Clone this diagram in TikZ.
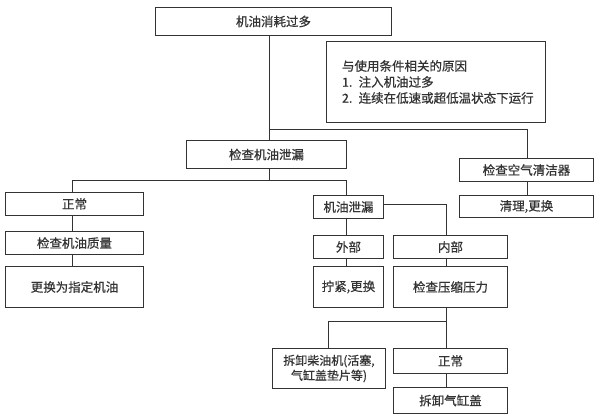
\documentclass[tikz,border=0pt]{standalone}
\usepackage{fontspec}
\setmainfont{Noto Sans CJK SC}[FakeBold=0.6]
\begin{document}
\begin{tikzpicture}[x=1pt,y=1pt,
  box/.style={draw=black!80, line width=1pt, anchor=north west, inner sep=0pt, align=center, font=\fontsize{12.5}{15}\selectfont, text=black!80},
  conn/.style={draw=black!80, line width=1pt}]
\useasboundingbox (0,0) rectangle (598,-419);
\fill[white] (0,0) rectangle (598,-419);
% boxes
\node[box, minimum width=236, minimum height=28] (top) at (155,-7) {机油消耗过多};
\node[box, minimum width=219, minimum height=81, align=left, text width=200] (reason) at (326,-41)
  {\hspace*{6pt}与使用条件相关的原因\\[1pt]\hspace*{6pt}1. 注入机油过多\\[1pt]\hspace*{6pt}2. 连续在低速或超低温状态下运行};
\node[box, minimum width=160, minimum height=28] (leak) at (186,-140) {检查机油泄漏};
\node[box, minimum width=134, minimum height=23] (air) at (459,-158) {检查空气清洁器};
\node[box, minimum width=134, minimum height=22] (clean) at (459,-195) {清理,更换};
\node[box, minimum width=138, minimum height=23] (normA) at (5,-192) {正常};
\node[box, minimum width=138, minimum height=23] (quality) at (5,-231) {检查机油质量};
\node[box, minimum width=138, minimum height=41] (replace) at (5,-266) {更换为指定机油};
\node[box, minimum width=70, minimum height=23] (oilleak) at (313,-195) {机油泄漏};
\node[box, minimum width=70, minimum height=23] (ext) at (313,-235) {外部};
\node[box, minimum width=70, minimum height=41] (tight) at (313,-266) {拧紧,更换};
\node[box, minimum width=114, minimum height=23] (int) at (393,-235) {内部};
\node[box, minimum width=114, minimum height=41] (comp) at (393,-266) {检查压缩压力};
\node[box, minimum width=113, minimum height=40, font=\fontsize{12}{15}\selectfont] (disasm) at (272,-348) {拆卸柴油机(活塞,\\气缸盖垫片等)};
\node[box, minimum width=114, minimum height=25] (normB) at (393,-348) {正常};
\node[box, minimum width=114, minimum height=26] (head) at (393,-387) {拆卸气缸盖};
% junction coordinates
\coordinate (j1) at (269,-130);
\coordinate (j1r) at (527,-130);
\coordinate (j2) at (269,-181);
\coordinate (j2l) at (72,-181);
\coordinate (j2r) at (346,-181);
\coordinate (j3) at (446,-205);
\coordinate (j4) at (446,-322);
\coordinate (j4l) at (328,-322);
% connectors
\draw[conn] (top.south -| j1) -- (leak.north -| j1);
\draw[conn] (j1) -- (j1r) -- (air.north -| j1r);
\draw[conn] (air.south -| j1r) -- (clean.north -| j1r);
\draw[conn] (leak.south -| j2) -- (j2);
\draw[conn] (normA.north -| j2l) -- (j2l) -- (j2r) -- (oilleak.north -| j2r);
\draw[conn] (normA.south -| j2l) -- (quality.north -| j2l);
\draw[conn] (quality.south -| j2l) -- (replace.north -| j2l);
\draw[conn] (oilleak.south -| j2r) -- (ext.north -| j2r);
\draw[conn] (ext.south -| j2r) -- (tight.north -| j2r);
\draw[conn] (oilleak.east |- j3) -- (j3) -- (int.north -| j3);
\draw[conn] (int.south -| j3) -- (comp.north -| j3);
\draw[conn] (comp.south -| j4) -- (normB.north -| j4);
\draw[conn] (j4) -- (j4l) -- (disasm.north -| j4l);
\draw[conn] (normB.south -| j4) -- (head.north -| j4);
\end{tikzpicture}
\end{document}
